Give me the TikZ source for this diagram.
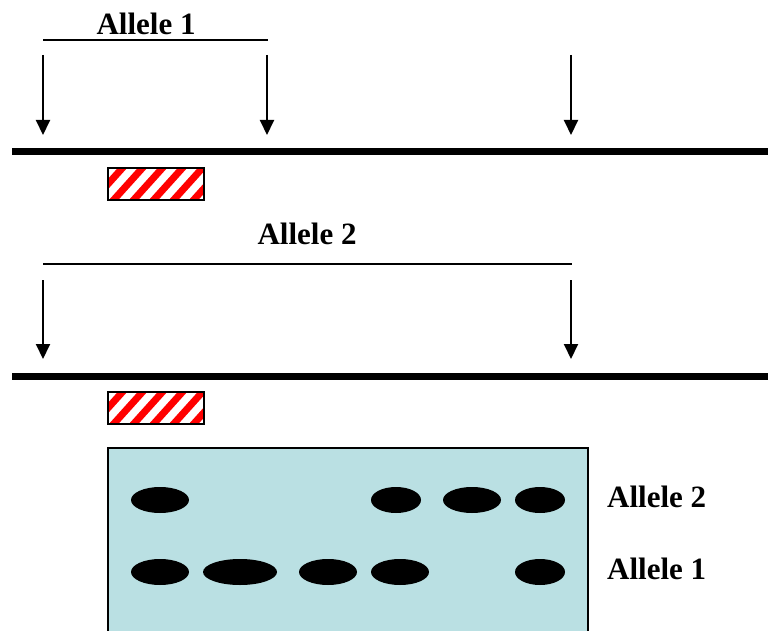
\documentclass[tikz,border=0pt]{standalone}
\usepackage{fontspec}
\setmainfont{Liberation Serif}
\usetikzlibrary{arrows.meta}
\definecolor{gelblue}{HTML}{BAE0E3}
\definecolor{hatchred}{HTML}{FF0000}
\tikzset{
  lbl/.style={font=\fontsize{31}{31}\selectfont\bfseries, inner sep=0pt},
  span/.style={line width=1.5pt},
  cutarrow/.style={line width=2pt, -{Triangle[width=14pt,length=15pt]}},
  dna/.style={line width=7pt},
  band/.style={fill=black, draw=none},
  gel/.style={fill=gelblue, draw=none},
}
\begin{document}
\begin{tikzpicture}[x=1pt,y=-1pt]
\useasboundingbox (0,0) rectangle (768,631);
% ---------- Allele 1 ----------
\node[lbl] (a1) at (146,24) {Allele 1};
\coordinate (s1l) at (43,40);
\coordinate (s1r) at (268,40);
\draw[span] (s1l) -- (s1r);
\coordinate (c1a) at (43,55);  \coordinate (t1a) at (43,135);
\coordinate (c1b) at (267,55); \coordinate (t1b) at (267,135);
\coordinate (c1c) at (571,55); \coordinate (t1c) at (571,135);
\draw[cutarrow] (c1a) -- (t1a);
\draw[cutarrow] (c1b) -- (t1b);
\draw[cutarrow] (c1c) -- (t1c);
\coordinate (d1l) at (12,152); \coordinate (d1r) at (768,152);
\draw[dna] (d1l) -- (d1r);
% probe 1
\begin{scope}
\clip (108,168) rectangle (204,200);
\foreach \x in {70,90,...,210} \draw[hatchred, line width=7pt] (\x,204) -- (\x+36,164);
\end{scope}
\draw[line width=1.5pt] (108,168) rectangle (204,200);
% ---------- Allele 2 ----------
\node[lbl] (a2) at (307,234) {Allele 2};
\coordinate (s2l) at (43,264);
\coordinate (s2r) at (572,264);
\draw[span] (s2l) -- (s2r);
\coordinate (c2a) at (43,280);  \coordinate (t2a) at (43,359);
\coordinate (c2c) at (571,280); \coordinate (t2c) at (571,359);
\draw[cutarrow] (c2a) -- (t2a);
\draw[cutarrow] (c2c) -- (t2c);
\coordinate (d2l) at (12,376); \coordinate (d2r) at (768,376);
\draw[dna] (d2l) -- (d2r);
% probe 2
\begin{scope}
\clip (108,392) rectangle (204,424);
\foreach \x in {70,90,...,210} \draw[hatchred, line width=7pt] (\x,428) -- (\x+36,388);
\end{scope}
\draw[line width=1.5pt] (108,392) rectangle (204,424);
% ---------- Gel ----------
\fill[gel] (108,448) rectangle (588,631);
\draw[line width=2pt] (108,632) -- (108,448) -- (588,448) -- (588,632);
% row allele 2
\fill[band] (160,500) ellipse [x radius=29, y radius=13];
\fill[band] (396,500) ellipse [x radius=25, y radius=13];
\fill[band] (472,500) ellipse [x radius=29, y radius=13];
\fill[band] (540,500) ellipse [x radius=25, y radius=13];
% row allele 1
\fill[band] (160,572) ellipse [x radius=29, y radius=13];
\fill[band] (240,572) ellipse [x radius=37, y radius=13];
\fill[band] (328,572) ellipse [x radius=29, y radius=13];
\fill[band] (400,572) ellipse [x radius=29, y radius=13];
\fill[band] (540,572) ellipse [x radius=25, y radius=13];
\node[lbl, anchor=west] (g2) at (607,497) {Allele 2};
\node[lbl, anchor=west] (g1) at (607,569) {Allele 1};
\end{tikzpicture}
\end{document}
